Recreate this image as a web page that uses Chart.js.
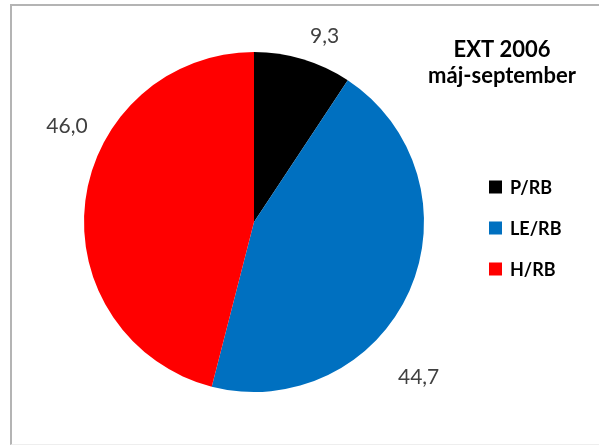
<!DOCTYPE html>
<html>
<head>
<meta charset="utf-8">
<script src="https://cdn.jsdelivr.net/npm/chart.js@4.4.1/dist/chart.umd.min.js"></script>
<style>
  html, body { margin: 0; padding: 0; background: #fff; }
  #wrap { position: relative; width: 599px; height: 448px; overflow: hidden; }
  #frame {
    position: absolute; left: 10px; top: 4px; width: 620px; height: 441px;
    border-left: 2px solid #b4b4b4; border-top: 2px solid #b4b4b4;
    border-bottom: 1px solid #eeeeee; box-sizing: border-box;
  }
  #myChart { position: absolute; left: 0; top: 0; }
</style>
</head>
<body>
<div id="wrap">
  <div id="frame"></div>
  <canvas id="myChart" width="599" height="448"></canvas>
</div>
<script>
const labels = ["P/RB", "LE/RB", "H/RB"];
const shares = [9.3, 44.7, 46.0];
const colors = ["#000000", "#0070C0", "#FF0000"];
const titleLines = ["EXT 2006", "máj-september"];

const canvas = document.getElementById("myChart");
const ctx = canvas.getContext("2d");

// value labels outside the slices, comma as decimal sign
const outsideLabels = {
  id: "outsideLabels",
  afterDatasetsDraw(chart, args, opts) {
    const c = chart.ctx;
    const meta = chart.getDatasetMeta(0);
    c.save();
    c.font = "21px Lato";
    c.fillStyle = "#404040";
    c.textAlign = "center";
    c.textBaseline = "middle";
    meta.data.forEach((arc, i) => {
      const a = arc.startAngle + opts.along * (arc.endAngle - arc.startAngle);
      const r = arc.outerRadius + opts.offsets[i];
      const txt = chart.data.datasets[0].data[i].toFixed(1).replace(".", ",");
      c.fillText(txt, arc.x + Math.cos(a) * r, arc.y + Math.sin(a) * r);
    });
    c.restore();
  }
};

// title block and legend on the right side
const sideText = {
  id: "sideText",
  afterDraw(chart) {
    const c = chart.ctx;
    c.save();
    c.fillStyle = "#000";
    c.textAlign = "center";
    c.textBaseline = "alphabetic";
    c.font = "bold 22px Lato";
    c.fillText(titleLines[0], 502, 57);
    c.fillText(titleLines[1], 502, 83);

    c.textAlign = "left";
    c.textBaseline = "middle";
    c.font = "bold 18px Lato";
    chart.data.labels.forEach((lab, i) => {
      const y = 187 + i * 41;
      c.fillStyle = chart.data.datasets[0].backgroundColor[i];
      c.fillRect(489, y - 6.5, 13, 13);
      c.fillStyle = "#000";
      c.fillText(lab, 510, y + 1);
    });
    c.restore();
  }
};

const chart = new Chart(ctx, {
  type: "pie",
  data: {
    labels: labels,
    datasets: [
      {
        data: shares,
        backgroundColor: colors,
        borderWidth: 0,
      },
    ],
  },
  options: {
    responsive: false,
    animation: false,
    devicePixelRatio: 1,
    layout: {
      padding: { left: 84, right: 175, top: 52, bottom: 56 },
    },
    plugins: {
      legend: { display: false },
      tooltip: { enabled: false },
      outsideLabels: { along: 0.62, offsets: [29, 56, 40] },
    },
  },
  plugins: [outsideLabels, sideText],
});
</script>
</body>
</html>
